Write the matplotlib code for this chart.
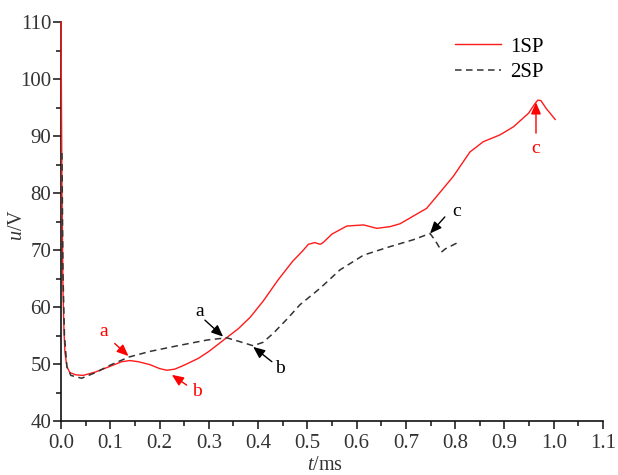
import matplotlib
matplotlib.use("Agg")
import matplotlib.pyplot as plt
from matplotlib.ticker import MultipleLocator

plt.rcParams["font.family"] = ["Liberation Serif", "DejaVu Serif"]
plt.rcParams["mathtext.fontset"] = "custom"
plt.rcParams["mathtext.rm"] = "Liberation Serif"
plt.rcParams["mathtext.it"] = "Liberation Serif:italic"

# Voltage traces (t in ms, u in V)
t_1sp = [0, 0.002, 0.004, 0.006, 0.008, 0.012, 0.018, 0.03, 0.045, 0.07, 0.1,
         0.123, 0.14, 0.157, 0.18, 0.2, 0.215, 0.231, 0.25, 0.279, 0.3, 0.333,
         0.36, 0.384, 0.41, 0.441, 0.47, 0.49, 0.502, 0.515, 0.526, 0.532, 0.55,
         0.58, 0.614, 0.641, 0.668, 0.688, 0.708, 0.742, 0.773, 0.796, 0.83,
         0.857, 0.891, 0.918, 0.949, 0.962, 0.968, 0.974, 0.985, 1.003]
u_1sp = [110, 80, 63, 56, 52, 49.5, 48.5, 48.1, 48.0, 48.6, 49.6,
         50.4, 50.6, 50.4, 49.9, 49.2, 48.9, 49.1, 49.8, 51.0, 52.2, 54.4,
         56.2, 58.2, 61.0, 64.8, 68.0, 69.8, 71.0, 71.3, 71.0, 71.3, 72.8,
         74.2, 74.4, 73.8, 74.1, 74.6, 75.6, 77.3, 80.5, 82.9, 87.2,
         89.0, 90.2, 91.6, 94.0, 95.7, 96.3, 96.2, 94.8, 92.9]

t_2sp = [0.002, 0.004, 0.007, 0.012, 0.02, 0.042, 0.07, 0.1, 0.137, 0.18,
         0.225, 0.26, 0.296, 0.336, 0.36, 0.39, 0.41, 0.431, 0.46, 0.485,
         0.526, 0.566, 0.614, 0.668, 0.715, 0.749, 0.76, 0.773, 0.78, 0.803]
u_2sp = [87, 66, 55, 49.5, 48.0, 47.5, 48.5, 49.8, 51.2, 52.2,
         53.0, 53.6, 54.2, 54.6, 54.0, 53.2, 53.8, 55.4, 58.0, 60.4,
         63.3, 66.5, 69.1, 70.6, 71.8, 72.9, 71.6, 69.7, 70.2, 71.2]

# Marker annotations: label, text position, arrow tail, arrow head, colour
notes = [
    ("a", (0.086, 55.7), (0.109, 53.6), (0.137, 51.4), "red"),
    ("b", (0.275, 45.1), (0.255, 46.3), (0.225, 48.1), "red"),
    ("c", (0.963, 87.8), (0.964, 90.5), (0.964, 95.9), "red"),
    ("a", (0.282, 59.2), (0.292, 57.7), (0.329, 54.8), "black"),
    ("b", (0.445, 49.2), (0.428, 50.4), (0.390, 53.0), "black"),
    ("c", (0.803, 76.7), (0.779, 75.8), (0.749, 72.9), "black"),
]

fig = plt.figure(figsize=(6.18, 4.75), dpi=100)
ax = fig.add_axes([61 / 618, 1 - 421 / 475, 542 / 618, 399 / 475])

ax.plot(t_1sp, u_1sp, color="#ff1a1a", lw=1.0, label="1SP", zorder=3, clip_on=False)
ax.plot(t_2sp, u_2sp, color="#333333", lw=1.1, ls=(0, (4.3, 2.9)), label="2SP",
        zorder=4, clip_on=False)

for lab, txy, tail, head, col in notes:
    ax.annotate("", xy=head, xytext=tail,
                arrowprops=dict(arrowstyle="-|>,head_length=0.7,head_width=0.3",
                                color=col, lw=1.0, shrinkA=0, shrinkB=0))
    ax.text(txy[0], txy[1], lab, color=col, fontsize=14, ha="center", va="center")

ax.set_xlim(0, 1.1)
ax.set_ylim(40, 110)
ax.xaxis.set_major_locator(MultipleLocator(0.1))
ax.xaxis.set_minor_locator(MultipleLocator(0.05))
ax.yaxis.set_major_locator(MultipleLocator(10))
ax.yaxis.set_minor_locator(MultipleLocator(5))
ax.xaxis.set_major_formatter(plt.FuncFormatter(lambda v, p: f"{v:.1f}"))

for s in ("top", "right"):
    ax.spines[s].set_visible(False)
for s in ("left", "bottom"):
    ax.spines[s].set_linewidth(1.2)
    ax.spines[s].set_color("#111111")

ax.tick_params(which="major", direction="out", length=6, width=1.1,
               labelsize=15, colors="#111111", labelcolor="#333333")
ax.tick_params(axis="x", which="major", pad=3)
ax.tick_params(axis="y", which="major", pad=1)
ax.tick_params(which="minor", direction="out", length=3.5, width=1.1, colors="#111111")

ax.set_xlabel("$t$/ms", fontsize=14.5, color="#333333")
ax.set_ylabel("$u$/V", fontsize=14.5, color="#333333")
ax.xaxis.set_label_coords(0.487, -0.087)
ax.yaxis.set_label_coords(-0.062, 0.49)

ax.legend(loc="upper left", bbox_to_anchor=(455 / 618, 1 - 37 / 475),
          bbox_transform=fig.transFigure, frameon=False, fontsize=15,
          handlelength=2.2, handletextpad=0.45, labelspacing=0.3, borderpad=0,
          borderaxespad=0)

fig.savefig("out.png", dpi=100)
